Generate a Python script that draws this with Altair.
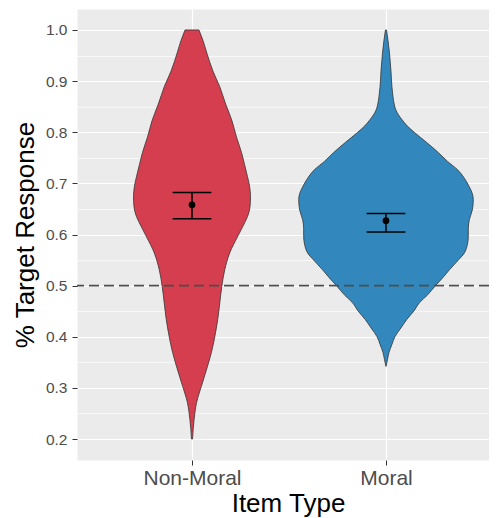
import altair as alt
import pandas as pd

categories = ["Non-Moral", "Moral"]
fill_colors = ["#d53e4f", "#3288bd"]

# violin profiles: response value and scaled density (1 = widest violin)
nm_y = [0.200, 0.220, 0.238, 0.255, 0.271, 0.290, 0.303, 0.335, 0.369, 0.400,
        0.434, 0.466, 0.498, 0.531, 0.564, 0.596, 0.615, 0.635, 0.655, 0.674,
        0.695, 0.713, 0.737, 0.760, 0.790, 0.824, 0.855, 0.889, 0.920, 0.955,
        0.980, 1.000]
nm_density = [0.006, 0.014, 0.024, 0.036, 0.052, 0.083, 0.107, 0.165, 0.222, 0.261,
              0.295, 0.318, 0.341, 0.375, 0.432, 0.523, 0.580, 0.636, 0.665, 0.670,
              0.659, 0.636, 0.602, 0.568, 0.511, 0.455, 0.386, 0.318, 0.239, 0.170,
              0.125, 0.080]
mo_y = [0.342, 0.355, 0.369, 0.385, 0.400, 0.417, 0.434, 0.450, 0.467, 0.482,
        0.498, 0.515, 0.531, 0.548, 0.564, 0.580, 0.596, 0.612, 0.629, 0.648,
        0.668, 0.680, 0.693, 0.710, 0.727, 0.743, 0.760, 0.780, 0.799, 0.812,
        0.824, 0.834, 0.844, 0.855, 0.870, 0.889, 0.920, 0.955, 0.980, 1.000]
mo_density = [0.000, 0.017, 0.034, 0.068, 0.102, 0.170, 0.239, 0.318, 0.386, 0.477,
              0.557, 0.648, 0.727, 0.818, 0.898, 0.932, 0.943, 0.943, 0.955, 0.989,
              1.000, 0.989, 0.955, 0.898, 0.818, 0.705, 0.602, 0.466, 0.330, 0.245,
              0.186, 0.143, 0.112, 0.094, 0.080, 0.068, 0.057, 0.040, 0.023, 0.006]

means = [0.658, 0.627]
ci_low = [0.631, 0.605]
ci_high = [0.682, 0.641]
chance = 0.5

y_ticks = [0.2, 0.3, 0.4, 0.5, 0.6, 0.7, 0.8, 0.9, 1.0]
y_minor = [0.25, 0.35, 0.45, 0.55, 0.65, 0.75, 0.85, 0.95]

VIOLIN_HALF = 0.45
CAP_HALF = 0.1

rows = []
for i, (ys, ds) in enumerate([(nm_y, nm_density), (mo_y, mo_density)]):
    pos = i + 1
    for y, d in zip(ys, ds):
        rows.append({"cat": categories[i], "pos": pos, "y": y,
                     "xl": pos - d * VIOLIN_HALF, "xr": pos + d * VIOLIN_HALF})
vdf = pd.DataFrame(rows)

sdf = pd.DataFrame({
    "cat": categories,
    "pos": [1, 2],
    "mean": means,
    "lo": ci_low,
    "hi": ci_high,
    "cl": [1 - CAP_HALF, 2 - CAP_HALF],
    "cr": [1 + CAP_HALF, 2 + CAP_HALF],
})
hdf = pd.DataFrame({"y": [chance]})

xscale = alt.Scale(domain=[0.4072, 2.531], nice=False, zero=False)
yscale = alt.Scale(domain=[0.159, 1.041], nice=False, zero=False)

FONT = "Liberation Sans"
MAJOR = "abs(datum.value * 10 - round(datum.value * 10)) < 0.01"

x_axis = alt.Axis(
    values=[1, 2],
    labelExpr="datum.value == 1 ? 'Non-Moral' : 'Moral'",
    grid=True, gridColor="white", gridWidth=1.2,
    domain=False, ticks=True, tickSize=5, tickColor="#333333", tickWidth=1,
    labelFont=FONT, labelFontSize=21, labelColor="#4d4d4d", labelPadding=2,
    title="Item Type", titleFont=FONT, titleFontSize=26, titleFontWeight="normal",
    titleColor="#000000", titleX=211, titleY=51, titleBaseline="alphabetic",
    titleAlign="center",
)
y_axis = alt.Axis(
    values=sorted(y_ticks + y_minor),
    labelExpr=MAJOR + " ? format(datum.value, '.1f') : ''",
    grid=True, gridColor="white",
    gridWidth={"condition": {"test": MAJOR, "value": 1.2}, "value": 0.6},
    domain=False, ticks=True,
    tickSize={"condition": {"test": MAJOR, "value": 5}, "value": 0},
    tickColor="#333333", tickWidth=1,
    labelFont=FONT, labelFontSize=15.5, labelColor="#4d4d4d", labelPadding=5,
    labelOverlap=False,
    title="% Target Response", titleFont=FONT, titleFontSize=26,
    titleFontWeight="normal", titleColor="#000000", titleAngle=270,
    titleX=-44, titleY=225.5, titleBaseline="alphabetic", titleAlign="center",
)

violins = alt.Chart(vdf).mark_area(
    orient="horizontal", interpolate="monotone", stroke="#333333",
    strokeWidth=0.8, fillOpacity=1,
).encode(
    y=alt.Y("y:Q", scale=yscale, axis=y_axis),
    x=alt.X("xl:Q", scale=xscale, axis=x_axis),
    x2="xr:Q",
    color=alt.Color("cat:N", scale=alt.Scale(domain=categories, range=fill_colors),
                    legend=None),
)

hline = alt.Chart(hdf).mark_rule(
    color="#4d4d4d", strokeWidth=1.6, strokeDash=[10, 5]
).encode(y=alt.Y("y:Q", scale=yscale, axis=y_axis))

stem = alt.Chart(sdf).mark_rule(color="black", strokeWidth=1.5).encode(
    x=alt.X("pos:Q", scale=xscale, axis=x_axis),
    y=alt.Y("lo:Q", scale=yscale, axis=y_axis),
    y2="hi:Q",
)
cap_lo = alt.Chart(sdf).mark_rule(color="black", strokeWidth=1.5).encode(
    x=alt.X("cl:Q", scale=xscale, axis=x_axis), x2="cr:Q",
    y=alt.Y("lo:Q", scale=yscale, axis=y_axis),
)
cap_hi = alt.Chart(sdf).mark_rule(color="black", strokeWidth=1.5).encode(
    x=alt.X("cl:Q", scale=xscale, axis=x_axis), x2="cr:Q",
    y=alt.Y("hi:Q", scale=yscale, axis=y_axis),
)
dots = alt.Chart(sdf).mark_point(filled=True, color="black", size=45, opacity=1).encode(
    x=alt.X("pos:Q", scale=xscale, axis=x_axis),
    y=alt.Y("mean:Q", scale=yscale, axis=y_axis),
)

chart = alt.layer(violins, hline, stem, cap_lo, cap_hi, dots).properties(
    width=412, height=451,
    autosize=alt.AutoSizeParams(type="none"),
    padding={"left": 69, "top": 1, "right": 0, "bottom": 58},
    background="white",
).configure_view(fill="#ebebeb", stroke="transparent")

chart.save("out.html", embed_options={"renderer": "svg", "actions": False})
